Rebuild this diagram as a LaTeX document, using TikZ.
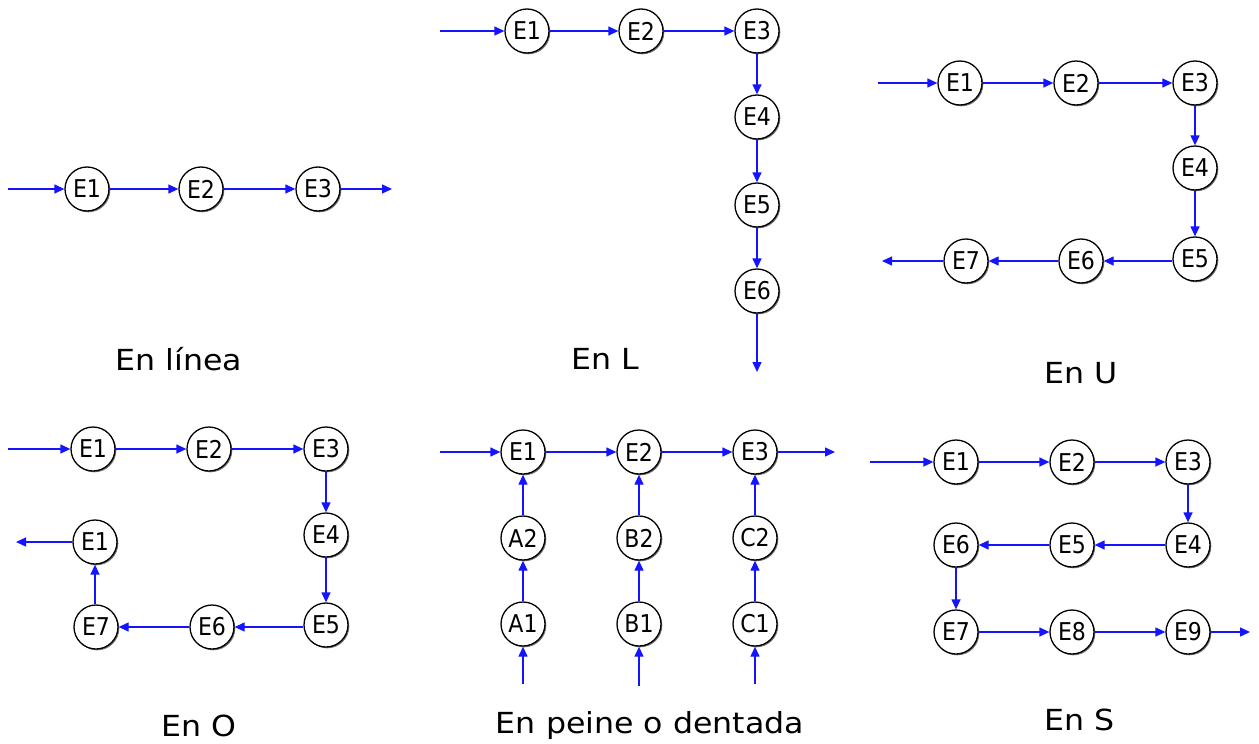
\documentclass[tikz,border=0pt]{standalone}
\usepackage{fontspec}
\setmainfont{DejaVu Sans Condensed}
\newfontfamily\capfont{DejaVu Sans}[FakeStretch=1.09]
\usetikzlibrary{arrows.meta,shadows}
\definecolor{flowblue}{RGB}{20,20,255}
\tikzset{
  st/.style={circle,draw=black,line width=1.3pt,fill=white,minimum size=44pt,inner sep=0pt,
    font=\fontsize{24.5}{24.5}\selectfont,
    drop shadow={shadow xshift=1.3pt,shadow yshift=-1.3pt,opacity=0.55,fill=black}},
  flow/.style={draw=flowblue,line width=1.3pt,-{Triangle[length=10pt,width=9pt]}},
  captxt/.style={font=\capfont\fontsize{29}{29}\selectfont,inner sep=0pt,anchor=base},
}
\begin{document}
\begin{tikzpicture}[x=1pt,y=-1pt]
\useasboundingbox (0,0) rectangle (1259,744);
% ---------- En linea
\node[st] (l1) at (87,189) {E1};
\node[st] (l2) at (201,189) {E2};
\node[st] (l3) at (318,189) {E3};
\coordinate (lin) at (8,189);
\coordinate (lout) at (392,189);
\draw[flow] (lin) -- (l1);
\draw[flow] (l1) -- (l2);
\draw[flow] (l2) -- (l3);
\draw[flow] (l3) -- (lout);
\node[captxt] (tl) at (179,370) {En línea};
% ---------- En L
\node[st] (L1) at (527,31) {E1};
\node[st] (L2) at (641,31) {E2};
\node[st] (L3) at (757,31) {E3};
\node[st] (L4) at (757,117) {E4};
\node[st] (L5) at (757,205) {E5};
\node[st] (L6) at (757,291) {E6};
\coordinate (Lin) at (440,31);
\coordinate (Lout) at (757,372);
\draw[flow] (Lin) -- (L1);
\draw[flow] (L1) -- (L2);
\draw[flow] (L2) -- (L3);
\draw[flow] (L3) -- (L4);
\draw[flow] (L4) -- (L5);
\draw[flow] (L5) -- (L6);
\draw[flow] (L6) -- (Lout);
\node[captxt] (tL) at (605,369) {En L};
% ---------- En U
\node[st] (U1) at (960,83) {E1};
\node[st] (U2) at (1076,83) {E2};
\node[st] (U3) at (1195,83) {E3};
\node[st] (U4) at (1195,168) {E4};
\node[st] (U5) at (1195,259) {E5};
\node[st] (U6) at (1081,261) {E6};
\node[st] (U7) at (966,261) {E7};
\coordinate (Uin) at (878,83);
\coordinate (Uout) at (882,261);
\draw[flow] (Uin) -- (U1);
\draw[flow] (U1) -- (U2);
\draw[flow] (U2) -- (U3);
\draw[flow] (U3) -- (U4);
\draw[flow] (U4) -- (U5);
\draw[flow] (U5.west |- U6) -- (U6);
\draw[flow] (U6) -- (U7);
\draw[flow] (U7) -- (Uout);
\node[captxt] (tU) at (1081,383) {En U};
% ---------- En O
\node[st] (O1) at (93,449) {E1};
\node[st] (O2) at (209,449) {E2};
\node[st] (O3) at (326,449) {E3};
\node[st] (O4) at (326,535) {E4};
\node[st] (O5) at (326,625) {E5};
\node[st] (O6) at (212,627) {E6};
\node[st] (O7) at (96,627) {E7};
\node[st] (O8) at (95,542) {E1};
\coordinate (Oin) at (8,449);
\coordinate (Oout) at (16,542);
\draw[flow] (Oin) -- (O1);
\draw[flow] (O1) -- (O2);
\draw[flow] (O2) -- (O3);
\draw[flow] (O3) -- (O4);
\draw[flow] (O4) -- (O5);
\draw[flow] (O5.west |- O6) -- (O6);
\draw[flow] (O6) -- (O7);
\draw[flow] (O7.north -| O8) -- (O8);
\draw[flow] (O8) -- (Oout);
\node[captxt] (tO) at (199,736) {En O};
% ---------- En peine
\node[st] (P1) at (523,452) {E1};
\node[st] (P2) at (639,452) {E2};
\node[st] (P3) at (755,452) {E3};
\node[st] (A2) at (523,538) {A2};
\node[st] (B2) at (639,538) {B2};
\node[st] (C2) at (755,538) {C2};
\node[st] (A1) at (523,624) {A1};
\node[st] (B1) at (639,624) {B1};
\node[st] (C1) at (755,624) {C1};
\coordinate (Pin) at (440,452);
\coordinate (Pout) at (835,452);
\coordinate (Ain) at (523,684);
\coordinate (Bin) at (639,686);
\coordinate (Cin) at (755,684);
\draw[flow] (Pin) -- (P1);
\draw[flow] (P1) -- (P2);
\draw[flow] (P2) -- (P3);
\draw[flow] (P3) -- (Pout);
\draw[flow] (Ain) -- (A1);
\draw[flow] (A1) -- (A2);
\draw[flow] (A2) -- (P1);
\draw[flow] (Bin) -- (B1);
\draw[flow] (B1) -- (B2);
\draw[flow] (B2) -- (P2);
\draw[flow] (Cin) -- (C1);
\draw[flow] (C1) -- (C2);
\draw[flow] (C2) -- (P3);
\node[captxt] (tP) at (650,733) {En peine o dentada};
% ---------- En S
\node[st] (S1) at (956,462) {E1};
\node[st] (S2) at (1072,462) {E2};
\node[st] (S3) at (1188,462) {E3};
\node[st] (S4) at (1188,545) {E4};
\node[st] (S5) at (1072,545) {E5};
\node[st] (S6) at (956,545) {E6};
\node[st] (S7) at (956,632) {E7};
\node[st] (S8) at (1072,632) {E8};
\node[st] (S9) at (1188,632) {E9};
\coordinate (Sin) at (870,462);
\coordinate (Sout) at (1250,632);
\draw[flow] (Sin) -- (S1);
\draw[flow] (S1) -- (S2);
\draw[flow] (S2) -- (S3);
\draw[flow] (S3) -- (S4);
\draw[flow] (S4) -- (S5);
\draw[flow] (S5) -- (S6);
\draw[flow] (S6) -- (S7);
\draw[flow] (S7) -- (S8);
\draw[flow] (S8) -- (S9);
\draw[flow] (S9) -- (Sout);
\node[captxt] (tS) at (1080,730) {En S};
\end{tikzpicture}
\end{document}
